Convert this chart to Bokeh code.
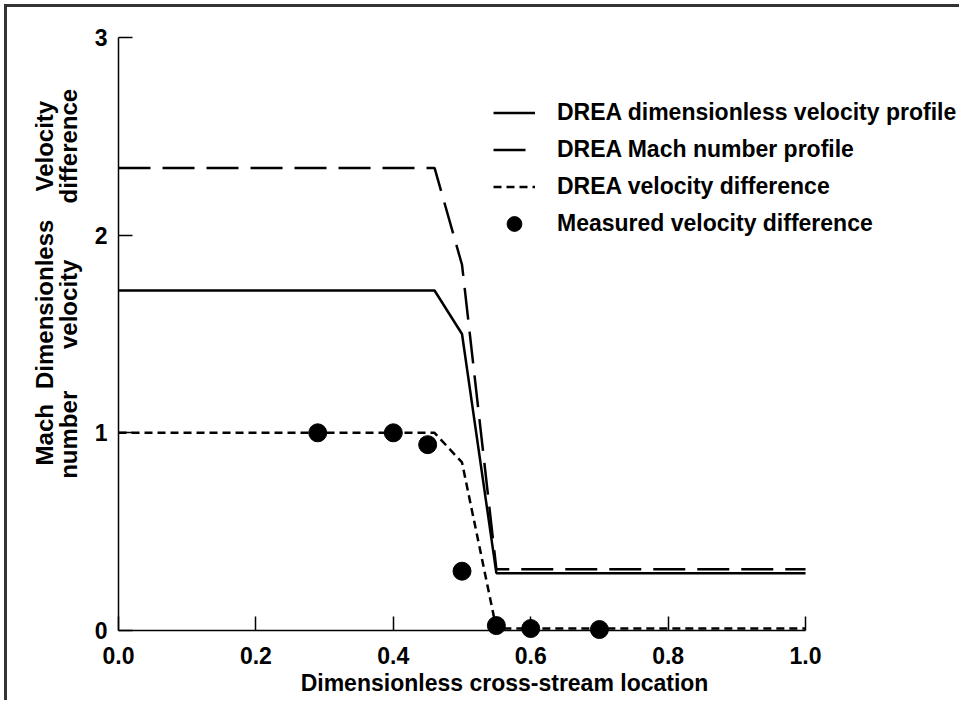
from bokeh.plotting import figure
from bokeh.models import Range1d, FixedTicker, NumeralTickFormatter, Legend, LegendItem, Label
from bokeh.embed import file_html
from bokeh.resources import INLINE

# ---- data ----
x_profile = [0.0, 0.46, 0.50, 0.55, 1.0]
dim_velocity = [1.72, 1.72, 1.50, 0.29, 0.29]
x_mach = [0.0, 0.46, 0.50, 0.55, 1.0]
mach_number = [2.34, 2.34, 1.85, 0.31, 0.31]
x_vdiff = [0.0, 0.46, 0.50, 0.55, 1.0]
velocity_diff = [1.0, 1.0, 0.85, 0.01, 0.01]
x_measured = [0.29, 0.40, 0.45, 0.50, 0.55, 0.60, 0.70]
measured_diff = [1.0, 1.0, 0.94, 0.30, 0.025, 0.01, 0.005]
x_ticks = [0.0, 0.2, 0.4, 0.6, 0.8, 1.0]
y_ticks = [0, 1, 2, 3]
legend_labels = ["DREA dimensionless velocity profile", "DREA Mach number profile",
                 "DREA velocity difference", "Measured velocity difference"]
x_title = "Dimensionless cross-stream location"

FONT = "Liberation Sans"

p = figure(width=955, height=696, title=None,
           x_range=Range1d(-0.1616, 1.2285), y_range=Range1d(-0.3692, 3.1513),
           output_backend="svg", toolbar_location=None, min_border=0,
           styles={"border-top": "3px solid #333333", "border-left": "3px solid #333333",
                   "margin-top": "4px", "margin-left": "4px"})

p.xgrid.visible = False
p.ygrid.visible = False
p.outline_line_color = None
p.background_fill_color = "white"
p.border_fill_color = "white"

for ax in (p.xaxis[0], p.yaxis[0]):
    ax.fixed_location = 0
    ax.axis_line_color = "black"
    ax.axis_line_width = 1.5
    ax.major_tick_line_color = "black"
    ax.major_tick_line_width = 1.5
    ax.major_tick_in = 14
    ax.major_tick_out = 0
    ax.minor_tick_line_color = None
    ax.major_label_text_font = FONT
    ax.major_label_text_font_size = "23px"
    ax.major_label_text_font_style = "bold"
    ax.major_label_text_color = "black"

p.xaxis.ticker = FixedTicker(ticks=x_ticks)
p.xaxis.formatter = NumeralTickFormatter(format="0.0")
p.xaxis.bounds = (0, 1)
p.xaxis.major_label_standoff = 16

p.yaxis.ticker = FixedTicker(ticks=y_ticks)
p.yaxis.bounds = (0, 3)
p.yaxis.major_label_standoff = 11

r1 = p.line(x_profile, dim_velocity, line_color="black", line_width=2.5)
r2 = p.line(x_mach, mach_number, line_color="black", line_width=2.5, line_dash="32 12")
r3 = p.line(x_vdiff, velocity_diff, line_color="black", line_width=2.5, line_dash="8 5")
r4 = p.scatter(x_measured, measured_diff, size=18, marker="circle",
               fill_color="black", line_color="black")

legend = Legend(items=[LegendItem(label=legend_labels[0], renderers=[r1]),
                       LegendItem(label=legend_labels[1], renderers=[r2]),
                       LegendItem(label=legend_labels[2], renderers=[r3]),
                       LegendItem(label=legend_labels[3], renderers=[r4])],
                location=(486, 461), orientation="vertical",
                glyph_width=42, glyph_height=37, label_height=37,
                label_standoff=22, spacing=0, padding=0, margin=0,
                border_line_color=None, background_fill_alpha=0,
                label_text_font=FONT, label_text_font_size="23px",
                label_text_font_style="bold", label_text_color="black")
p.add_layout(legend)

p.add_layout(Label(x=0.5619, y=-0.263, x_units="data", y_units="data", text=x_title,
                   text_align="center", text_baseline="middle", text_font=FONT,
                   text_font_size="23px", text_font_style="bold", text_color="black"))

ylabel_parts = [("Velocity", -0.1077, 2.45), ("difference", -0.0728, 2.45),
                ("Dimensionless", -0.1077, 1.65), ("velocity", -0.0728, 1.65),
                ("Mach", -0.1077, 0.99), ("number", -0.0728, 0.99)]
for txt, lx, ly in ylabel_parts:
    p.add_layout(Label(x=lx, y=ly, x_units="data", y_units="data", text=txt,
                       angle=90, angle_units="deg", text_align="center",
                       text_baseline="middle", text_font=FONT, text_font_size="24px",
                       text_font_style="bold", text_color="black"))

open("out.html", "w").write(file_html(p, INLINE))
